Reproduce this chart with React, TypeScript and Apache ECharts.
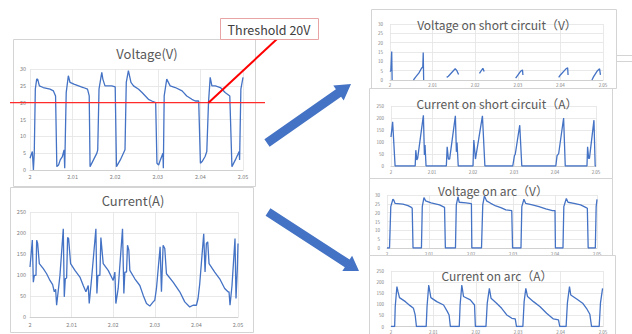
import React, { useEffect, useRef } from "react";
import * as echarts from "echarts";

// ---- axes ----
const xMin = 2;
const xMax = 2.05;
const xStep = 0.01;
const voltMax = 30;
const voltStep = 5;
const currMax = 250;
const currStep = 50;
const threshold = 20;
const thresholdTime = 2.0419;
const thresholdLabel = "Threshold 20V";

const chartTitles = [
  "Voltage(V)",
  "Current(A)",
  "Voltage on short circuit（V）",
  "Current on short circuit（A）",
  "Voltage on arc（V）",
  "Current on arc（A）",
];

// ---- data: [time (s), value] ----
const voltage = [
  [2.0, 3.5], [2.00055, 5.5], [2.0008, 0], [2.001, 5], [2.00125, 24], [2.00157, 27], [2.0018, 27],
  [2.0022, 25], [2.0031, 24.5], [2.0047, 24], [2.0055, 23.5], [2.006, 22], [2.0063, 1], [2.0067, 1.5],
  [2.0071, 3], [2.0076, 4], [2.008, 6], [2.00815, 0.5], [2.0085, 23], [2.009, 28], [2.0094, 26],
  [2.0103, 25.5], [2.0114, 25], [2.0125, 24.5], [2.0135, 24], [2.0139, 22], [2.0141, 1], [2.0149, 3],
  [2.0157, 5], [2.0159, 6], [2.0162, 24], [2.01685, 29], [2.0171, 27], [2.0176, 25], [2.0192, 25],
  [2.02, 24.7], [2.0203, 1], [2.0212, 3], [2.0223, 6], [2.0226, 26], [2.0231, 29.5], [2.0237, 26],
  [2.0243, 25], [2.0255, 24], [2.0263, 23], [2.0278, 21], [2.0286, 20.5], [2.0295, 20], [2.0298, 2],
  [2.0302, 1.5], [2.0306, 3], [2.0312, 5], [2.0313, 0.5], [2.0315, 22], [2.0321, 27], [2.0329, 25],
  [2.0341, 24.5], [2.0357, 23.5], [2.0368, 22], [2.038, 21], [2.0388, 20.5], [2.0396, 20.5], [2.04, 2],
  [2.0404, 2.5], [2.0411, 4], [2.0415, 5.5], [2.0419, 20], [2.0423, 27.5], [2.0427, 25], [2.0435, 25],
  [2.0447, 24.5], [2.0458, 23], [2.0469, 22], [2.0474, 1], [2.0482, 3], [2.04875, 4.5], [2.0491, 5.5],
  [2.0492, 3], [2.0495, 24], [2.05, 27.5],
];

const current = [
  [2.0, 119], [2.00056, 183], [2.0008, 83], [2.00104, 99], [2.00144, 99], [2.0016, 183], [2.00184, 175],
  [2.00224, 127], [2.0032, 115], [2.004, 103], [2.0048, 87], [2.00544, 77], [2.00584, 60], [2.00616, 66],
  [2.0064, 28], [2.0072, 99], [2.008, 210], [2.00824, 48], [2.00848, 91], [2.0088, 93], [2.00904, 189],
  [2.00928, 187], [2.00976, 127], [2.0108, 111], [2.012, 95], [2.0128, 75], [2.01344, 60], [2.014, 75],
  [2.01424, 32], [2.0148, 91], [2.01584, 210], [2.01608, 56], [2.01632, 99], [2.0168, 99], [2.01704, 189],
  [2.0176, 127], [2.0188, 111], [2.02, 87], [2.0204, 107], [2.02064, 32], [2.0212, 68], [2.02224, 210],
  [2.02256, 56], [2.0228, 107], [2.0232, 107], [2.02344, 171], [2.02376, 159], [2.024, 111], [2.0252, 91],
  [2.0264, 75], [2.0272, 52], [2.028, 32], [2.0288, 26], [2.0296, 36], [2.03, 40], [2.0304, 68],
  [2.03128, 167], [2.0316, 60], [2.032, 171], [2.0324, 163], [2.0328, 103], [2.0344, 83], [2.036, 60],
  [2.0372, 36], [2.0384, 24], [2.0392, 28], [2.04, 28], [2.0404, 44], [2.0408, 79], [2.04176, 198],
  [2.04208, 107], [2.0424, 175], [2.04272, 179], [2.04304, 127], [2.0444, 107], [2.0456, 91], [2.0468, 68],
  [2.0476, 60], [2.04784, 60], [2.04808, 28], [2.04856, 75], [2.04928, 187], [2.04952, 44], [2.04984, 115],
  [2.05, 175],
];

const shortVoltage = [
  [2.0, 4.5], [2.0002, 5], [2.0003, 5.2], [2.0004, 15.3], [2.0005, 0], [2.0006, null],
  [2.0055, 0], [2.006, 1.5], [2.0068, 3.8], [2.0074, 6.3], [2.0077, 7], [2.0078, 14.7], [2.0079, 0], [2.008, null],
  [2.0133, 1.4], [2.0137, 2], [2.0153, 6], [2.0157, 5], [2.0161, 3], [2.0162, null],
  [2.021, 3.6], [2.0218, 6.3], [2.0221, 4.5], [2.0222, null],
  [2.0295, 1], [2.0298, 2], [2.0306, 4.5], [2.0311, 5.4], [2.0312, 2.7], [2.0313, null],
  [2.0396, 1.4], [2.04, 2.7], [2.0412, 5.7], [2.0417, 6.6], [2.0418, 2.7], [2.0419, null],
  [2.0474, 0], [2.0478, 1.8], [2.0487, 5], [2.0492, 6], [2.0494, 2.7],
];

const shortCurrent = [
  [2.0, 121], [2.0004, 184], [2.001, 0], [2.0059, 0], [2.00605, 66], [2.0063, 25], [2.0065, 32],
  [2.0079, 211], [2.00815, 46], [2.0083, 87], [2.00855, 0], [2.0135, 0], [2.0137, 80], [2.014, 29],
  [2.0143, 29], [2.0157, 209], [2.01595, 59], [2.0161, 98], [2.0164, 0], [2.02, 0], [2.0202, 108],
  [2.0206, 29], [2.0223, 209], [2.0229, 0], [2.0297, 0], [2.0301, 43], [2.0303, 48], [2.0314, 170],
  [2.0319, 0], [2.0402, 0], [2.0405, 43], [2.0409, 52], [2.0421, 200], [2.0425, 0], [2.0478, 0],
  [2.04795, 80], [2.0482, 32], [2.0484, 32], [2.0495, 191], [2.0498, 0], [2.05, 0],
];

const arcVoltage = [
  [2.0, 0], [2.0006, 0], [2.0009, 23.4], [2.0014, 27.6], [2.0016, 27.2], [2.0019, 25.3], [2.0038, 24.8],
  [2.005, 24], [2.0058, 23], [2.006, 22.5], [2.0062, 0], [2.0082, 0], [2.0084, 23.4], [2.0088, 28.5],
  [2.0092, 26.7], [2.0105, 25.5], [2.0125, 24.4], [2.0137, 23], [2.0139, 0], [2.0163, 0], [2.0165, 24.4],
  [2.0169, 29], [2.0172, 25.9], [2.0188, 25.5], [2.0201, 25.1], [2.0202, 0], [2.0225, 0], [2.0228, 24.4],
  [2.0232, 29.5], [2.0237, 26.7], [2.0247, 25.3], [2.0259, 23.8], [2.0271, 22.9], [2.0283, 21.6],
  [2.0297, 21.2], [2.0299, 0], [2.0319, 0], [2.0321, 23.4], [2.0326, 27.6], [2.033, 25.3], [2.0346, 24.4],
  [2.0362, 23.4], [2.0378, 22.1], [2.0394, 21.2], [2.04, 21.2], [2.0401, 0], [2.0419, 0], [2.0421, 23.4],
  [2.0427, 28], [2.0431, 25.9], [2.0445, 25.3], [2.0461, 24.4], [2.0473, 23], [2.0477, 22.5], [2.0479, 0],
  [2.0496, 0], [2.0498, 23.4], [2.05, 27.5],
];

const arcCurrent = [
  [2.0, 0], [2.00086, 0], [2.001, 90], [2.0014, 180], [2.00165, 157], [2.002, 130], [2.0034, 112],
  [2.0045, 94], [2.0053, 82], [2.0057, 52], [2.006, 0], [2.0083, 0], [2.0085, 90], [2.0089, 187],
  [2.0094, 130], [2.0108, 112], [2.0124, 97], [2.0133, 67], [2.0137, 52], [2.014, 0], [2.0161, 0],
  [2.0163, 97], [2.0167, 187], [2.0171, 135], [2.0187, 120], [2.0197, 97], [2.0199, 0], [2.0224, 0],
  [2.0227, 105], [2.0232, 172], [2.0236, 127], [2.0249, 105], [2.0261, 82], [2.0273, 52], [2.0285, 37],
  [2.0293, 34], [2.0296, 0], [2.0311, 0], [2.0314, 112], [2.0318, 172], [2.0322, 135], [2.0336, 112],
  [2.0351, 90], [2.0367, 60], [2.0383, 34], [2.0395, 30], [2.0398, 0], [2.0413, 0], [2.0416, 105],
  [2.0421, 180], [2.0424, 142], [2.0438, 124], [2.0452, 105], [2.0461, 82], [2.0469, 55], [2.0473, 0],
  [2.0491, 0], [2.0494, 105], [2.0499, 172],
];

const FONT = '"Noto Sans CJK JP", "Noto Sans", sans-serif';
const LINE_COLOR = "#4472C4";
const GRID_COLOR = "#e3e3e3";
const LABEL_COLOR = "#808080";
const TITLE_COLOR = "#595959";
const BOX_COLOR = "#d4d4d4";

const fmtX = (v: number) => String(parseFloat(v.toFixed(2)));

export default function App() {
  const ref = useRef<HTMLDivElement>(null);

  useEffect(() => {
    if (!ref.current) return;
    const chart = echarts.init(ref.current, undefined, { renderer: "svg" });

    const grids = [
      { left: 30, top: 69, width: 213, height: 101 },
      { left: 30, top: 212, width: 208, height: 105 },
      { left: 390, top: 24, width: 213, height: 56 },
      { left: 391, top: 106, width: 205, height: 60 },
      { left: 387, top: 195, width: 210, height: 53 },
      { left: 391, top: 271, width: 212, height: 56 },
    ];
    const isVolt = [true, false, true, false, true, false];
    const labelSize = [5.5, 5.5, 4.5, 4.5, 4.5, 4.5];
    const xMargin = [4, 5, 3, 4, 4, 3];
    const yMargin = [4, 4, 7, 7, 7, 7];
    const seriesData = [voltage, current, shortVoltage, shortCurrent, arcVoltage, arcCurrent];

    const xAxis = grids.map((_, i) => ({
      type: "value",
      gridIndex: i,
      min: xMin,
      max: xMax,
      interval: xStep,
      axisLine: { show: true, lineStyle: { color: "#d0d0d0", width: 1 } },
      axisTick: { show: false },
      splitLine: { show: true, lineStyle: { color: GRID_COLOR, width: 0.8 } },
      axisLabel: {
        fontSize: labelSize[i],
        color: LABEL_COLOR,
        margin: xMargin[i],
        fontFamily: FONT,
        showMinLabel: true,
        showMaxLabel: true,
        formatter: fmtX,
      },
    }));
    const yAxis = grids.map((_, i) => ({
      type: "value",
      gridIndex: i,
      min: 0,
      max: isVolt[i] ? voltMax : currMax,
      interval: isVolt[i] ? voltStep : currStep,
      axisLine: { show: false },
      axisTick: { show: false },
      splitLine: { show: true, lineStyle: { color: GRID_COLOR, width: 0.8 } },
      axisLabel: {
        fontSize: labelSize[i],
        color: LABEL_COLOR,
        margin: yMargin[i],
        fontFamily: FONT,
      },
    }));
    const series = seriesData.map((d, i) => ({
      type: "line",
      xAxisIndex: i,
      yAxisIndex: i,
      data: d,
      showSymbol: false,
      connectNulls: false,
      lineStyle: { color: LINE_COLOR, width: 1.3 },
      itemStyle: { color: LINE_COLOR },
      z: 3,
    }));

    chart.setOption({
      animation: false,
      backgroundColor: "#ffffff",
      grid: grids,
      xAxis,
      yAxis,
      series,
    });

    const box = (x: number, y: number, w: number, h: number) => ({
      type: "rect",
      shape: { x: x + 0.5, y: y + 0.5, width: w, height: h },
      style: { fill: "none", stroke: BOX_COLOR, lineWidth: 1 },
      z: 1,
      silent: true,
    });
    const seg = (x1: number, y1: number, x2: number, y2: number, color: string, w: number) => ({
      type: "line",
      shape: { x1, y1, x2, y2 },
      style: { stroke: color, lineWidth: w },
      z: 5,
      silent: true,
    });
    const title = (text: string, x: number, y: number, size: number) => ({
      type: "text",
      x,
      y,
      style: {
        text,
        fontSize: size,
        fontFamily: FONT,
        fill: TITLE_COLOR,
        align: "center",
        verticalAlign: "middle",
        textAlign: "center",
        textVerticalAlign: "middle",
      },
      z: 6,
      silent: true,
    });

    const pStart = chart.convertToPixel({ gridIndex: 0 }, [xMin, threshold]) as number[];
    const pTouch = chart.convertToPixel({ gridIndex: 0 }, [thresholdTime, threshold]) as number[];
    const thY = pStart[1];

    chart.setOption({
      graphic: [
        box(13, 39, 242, 147),
        box(10, 187, 243, 145),
        box(371, 9, 245, 79),
        box(369, 88, 243, 90),
        box(369, 178, 243, 77),
        box(369, 255, 246, 90),
        seg(616, 55.5, 632, 55.5, BOX_COLOR, 1),
        seg(616, 61.5, 632, 61.5, BOX_COLOR, 1),
        seg(616.5, 61, 616.5, 88, BOX_COLOR, 1),
        title(chartTitles[0], 147, 53, 13),
        title(chartTitles[1], 133, 200, 13),
        title(chartTitles[2], 497, 24, 12),
        title(chartTitles[3], 497, 103, 12),
        title(chartTitles[4], 493, 190, 12),
        title(chartTitles[5], 497, 275, 12),
        seg(10, thY, 265, thY, "#ff2a2a", 1.2),
        seg(pTouch[0], thY, 277, 39, "#ff0000", 2),
        {
          type: "rect",
          shape: { x: 220.5, y: 18.5, width: 98, height: 21 },
          style: { fill: "#ffffff", stroke: "#e8a4a4", lineWidth: 1 },
          z: 7,
          silent: true,
        },
        {
          type: "text",
          x: 269,
          y: 29,
          style: {
            text: thresholdLabel,
            fontSize: 12.5,
            fontFamily: FONT,
            fill: "#404040",
            align: "center",
            verticalAlign: "middle",
            textAlign: "center",
            textVerticalAlign: "middle",
          },
          z: 8,
          silent: true,
        },
        {
          type: "polygon",
          shape: {
            points: [
              [269.6, 146.7], [341.1, 96.7], [343.7, 100.4], [351, 84], [333.3, 85.6], [335.9, 89.3], [264.4, 139.3],
            ],
          },
          style: { fill: LINE_COLOR },
          z: 5,
          silent: true,
        },
        {
          type: "polygon",
          shape: {
            points: [
              [265.6, 215.8], [344.8, 267.2], [342.3, 271.0], [359, 271], [352.1, 255.8], [349.6, 259.6], [270.4, 208.2],
            ],
          },
          style: { fill: LINE_COLOR },
          z: 5,
          silent: true,
        },
      ],
    });

    return () => chart.dispose();
  }, []);

  return (
    <div
      ref={ref}
      style={{ position: "fixed", left: 0, top: 0, width: 632, height: 334, background: "#fff" }}
    />
  );
}
